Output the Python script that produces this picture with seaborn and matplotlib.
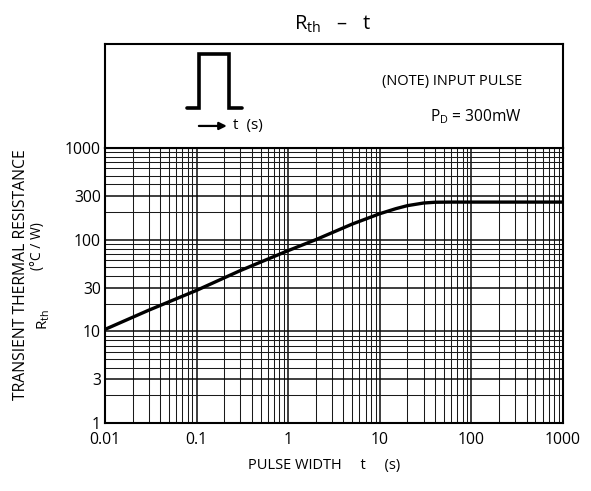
import numpy as np
import matplotlib
matplotlib.use("Agg")
import matplotlib.pyplot as plt
from matplotlib.ticker import FixedLocator, LogLocator, NullFormatter, FixedFormatter
import seaborn as sns

sns.set_theme(style="white")
plt.rcParams["font.family"] = ["Open Sans", "DejaVu Sans"]
plt.rcParams["mathtext.fontset"] = "custom"
plt.rcParams["mathtext.rm"] = "Open Sans"
plt.rcParams["mathtext.it"] = "Open Sans"
plt.rcParams["text.color"] = "black"

# curve
pulse_width = [0.01, 0.03, 0.1, 0.3, 1, 2, 5, 10, 15, 20, 30, 40, 60, 1000]
r_th = [10.5, 17, 28, 46, 76, 100, 148, 192, 218, 235, 251, 256, 257, 257]

x_ticks = [0.01, 0.1, 1, 10, 100, 1000]
x_labels = ["0.01", "0.1", "1", "10", "100", "1000"]
y_ticks = [1, 3, 10, 30, 100, 300, 1000]
y_labels = ["1", "3", "10", "30", "100", "300", "1000"]

W, H = 591, 491
fig = plt.figure(figsize=(W / 100, H / 100), dpi=100)

left, right, grid_top, box_top, bottom = 105, 563, 148, 44, 423
ax = fig.add_axes([left / W, 1 - bottom / H, (right - left) / W, (bottom - grid_top) / H])
ax_top = fig.add_axes([left / W, 1 - grid_top / H, (right - left) / W, (grid_top - box_top) / H])

ax.set_xscale("log")
ax.set_yscale("log")
ax.set_xlim(0.01, 1000)
ax.set_ylim(1, 1000)

ax.xaxis.set_major_locator(FixedLocator(x_ticks))
ax.xaxis.set_major_formatter(FixedFormatter(x_labels))
ax.xaxis.set_minor_locator(LogLocator(base=10, subs=np.arange(2, 10)))
ax.xaxis.set_minor_formatter(NullFormatter())
ax.yaxis.set_major_locator(FixedLocator(y_ticks))
ax.yaxis.set_major_formatter(FixedFormatter(y_labels))
ax.yaxis.set_minor_locator(LogLocator(base=10, subs=np.arange(2, 10)))
ax.yaxis.set_minor_formatter(NullFormatter())

ax.grid(which="major", color="#0a0a0a", linewidth=1.1)
ax.grid(which="minor", color="#1a1a1a", linewidth=0.75)
ax.tick_params(which="both", length=0, labelsize=11.3, colors="black")
ax.tick_params(axis="x", pad=6.5)
ax.tick_params(axis="y", pad=3)

sns.lineplot(x=pulse_width, y=r_th, ax=ax, color="black", linewidth=2.4, zorder=5)

for a in (ax, ax_top):
    for sp in a.spines.values():
        sp.set_color("black")
        sp.set_linewidth(1.5)
        sp.set_visible(True)

# note box above the grid
ax_top.set_xlim(0, 1)
ax_top.set_ylim(0, 1)
ax_top.set_xticks([])
ax_top.set_yticks([])
ax_top.plot([0.179, 0.205, 0.205, 0.271, 0.271, 0.299],
            [0.385, 0.385, 0.904, 0.904, 0.385, 0.385],
            color="black", linewidth=2.6, solid_joinstyle="miter")
ax_top.annotate("", xy=(0.266, 0.212), xytext=(0.205, 0.212),
                arrowprops=dict(arrowstyle="-|>", color="black", lw=1.6,
                                mutation_scale=11, shrinkA=0, shrinkB=0))
ax_top.text(0.279, 0.212, "t  (s)", fontsize=11, va="center", ha="left")
ax_top.text(0.605, 0.644, "(NOTE) INPUT PULSE", fontsize=10.5, va="center", ha="left")
ax_top.text(0.910, 0.298, r"$\mathrm{P_D}$ = 300mW", fontsize=11.2, va="center", ha="right")

fig.text(333 / W, 1 - 30 / H, r"$\mathrm{R_{th}}$   –   t", fontsize=14.5,
         ha="center", va="baseline")
fig.text(21 / W, 1 - 275 / H, "TRANSIENT THERMAL RESISTANCE", fontsize=11.3,
         rotation=90, ha="center", va="center")
fig.text(37 / W, 1 - 246 / H, "(°C / W)", fontsize=10, rotation=90,
         ha="center", va="center")
fig.text(44 / W, 1 - 320 / H, r"$\mathrm{R_{th}}$", fontsize=11, rotation=90,
         ha="center", va="center")
fig.text(324 / W, 1 - 466 / H, "PULSE WIDTH     t     (s)", fontsize=10.5,
         ha="center", va="center")

fig.savefig("out.png", dpi=100, facecolor="white")
